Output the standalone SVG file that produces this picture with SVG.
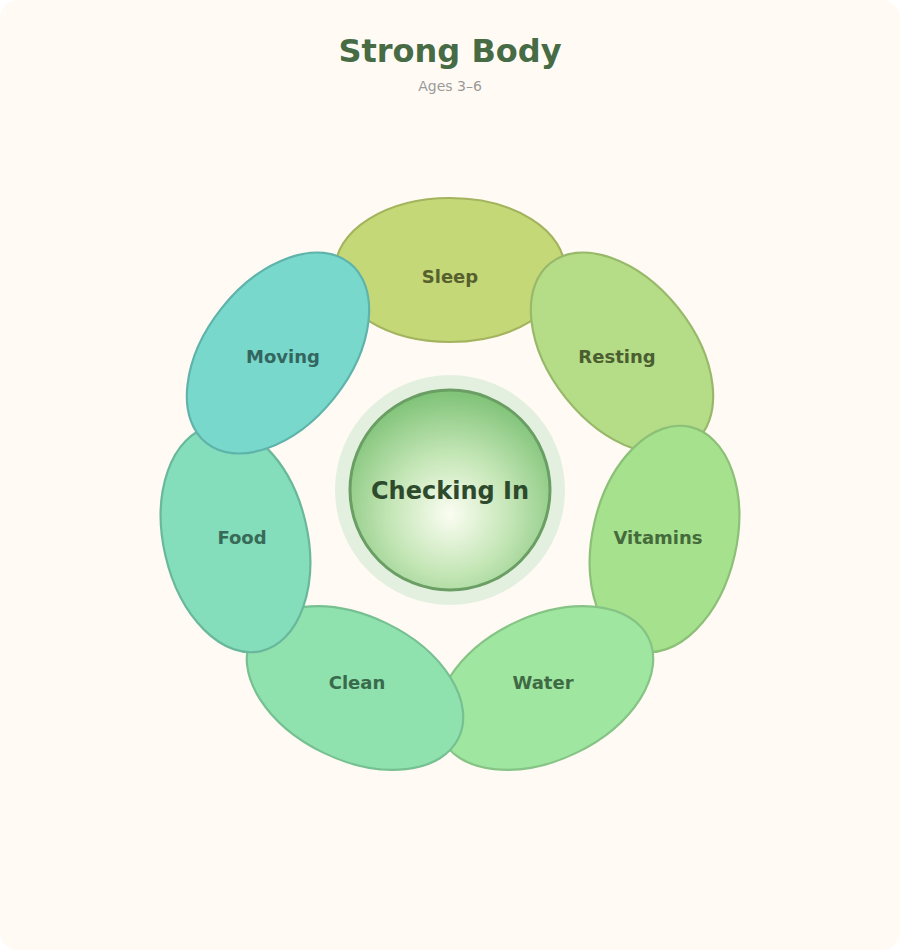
<svg xmlns="http://www.w3.org/2000/svg" width="900" height="950" viewBox="0 0 900 950">
<style>
text{font-family:"DejaVu Sans","Noto Sans",sans-serif;text-anchor:middle}
.p{stroke-width:2.2}
.l{font-size:18px;font-weight:bold}
</style>
<defs>
<radialGradient id="cg" cx="50%" cy="62%" r="60%">
<stop offset="0" stop-color="#fbfdf2"/>
<stop offset="0.5" stop-color="#c4e6b6"/>
<stop offset="1" stop-color="#82c47a"/>
</radialGradient>
</defs>
<rect width="900" height="950" rx="18" fill="#fffbf4"/>
<text x="450" y="62" font-size="32" font-weight="bold" fill="#466b45">Strong Body</text>
<text x="450" y="91" font-size="14" fill="#9a9a9a">Ages 3–6</text>
<g id="sleep"><ellipse class="p" cx="450" cy="270" rx="115" ry="72" fill="#c5d878" stroke="#a3b35e"/><text class="l" x="450" y="283" fill="#56602e">Sleep</text></g>
<g id="resting"><ellipse class="p" cx="0" cy="0" rx="115" ry="72" transform="translate(622,353) rotate(51.43)" fill="#b5dc86" stroke="#98b86a"/><text class="l" x="617" y="363" fill="#4a5e30">Resting</text></g>
<g id="vitamins"><ellipse class="p" cx="0" cy="0" rx="115" ry="72" transform="translate(664.5,539) rotate(102.86)" fill="#a6e28d" stroke="#8cc078"/><text class="l" x="658" y="544" fill="#456a3c">Vitamins</text></g>
<g id="water"><ellipse class="p" cx="0" cy="0" rx="115" ry="72" transform="translate(545,688) rotate(154.29)" fill="#9fe6a0" stroke="#86c486"/><text class="l" x="543" y="689" fill="#3f6a44">Water</text></g>
<g id="clean"><ellipse class="p" cx="0" cy="0" rx="115" ry="72" transform="translate(355,688) rotate(205.71)" fill="#8fe2ad" stroke="#76c092"/><text class="l" x="357" y="689" fill="#3a6a4c">Clean</text></g>
<g id="food"><ellipse class="p" cx="0" cy="0" rx="115" ry="72" transform="translate(235.5,539) rotate(257.14)" fill="#84debb" stroke="#6ab89c"/><text class="l" x="242" y="544" fill="#386a58">Food</text></g>
<g id="moving"><ellipse class="p" cx="0" cy="0" rx="115" ry="72" transform="translate(278,353) rotate(308.57)" fill="#78d8cc" stroke="#5fb3aa"/><text class="l" x="283" y="363" fill="#346660">Moving</text></g>
<g id="connectors"/>
<g id="center">
<circle cx="450" cy="490" r="115" fill="#e4f0df"/>
<circle cx="450" cy="490" r="100" fill="url(#cg)" stroke="#6a9e64" stroke-width="3"/>
<text x="450" y="499" font-size="24" font-weight="bold" fill="#2e4a2c">Checking In</text>
</g>
</svg>
